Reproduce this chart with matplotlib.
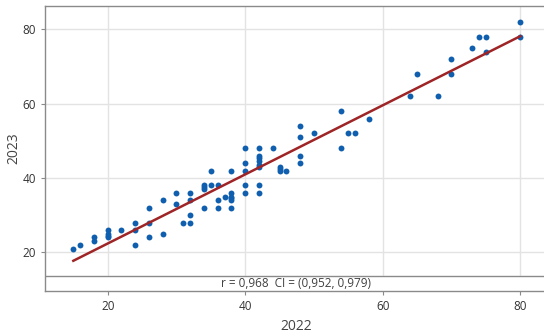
import matplotlib
matplotlib.use("Agg")
import matplotlib.pyplot as plt
import numpy as np

plt.rcParams['font.family'] = ['Open Sans', 'DejaVu Sans']

x2022 = [15, 16, 18, 18, 20, 20, 20, 20, 22, 24, 24, 24, 26, 26, 26, 28, 28, 30, 30, 31,
         32, 32, 32, 32, 34, 34, 34, 34, 35, 35, 36, 36, 36, 37,
         38, 38, 38, 38, 38, 38, 40, 40, 40, 40, 40,
         42, 42, 42, 42, 42, 42, 42, 42, 44, 45, 45, 45, 46,
         48, 48, 48, 48, 50, 54, 54, 55, 56, 58, 64, 65, 68, 70, 70, 73, 74, 75, 75, 80, 80]
y2023 = [21, 22, 24, 23, 26, 25, 24.5, 24, 26, 28, 26, 22, 32, 28, 24, 34, 25, 36, 33, 28,
         36, 34, 30, 28, 38, 37.5, 37, 32, 42, 38, 38, 34, 32, 35,
         42, 36, 35, 34.5, 34, 32, 48, 44, 42, 38, 36,
         48, 46, 45.5, 44.5, 43.5, 43, 38, 36, 48, 43, 42.5, 42, 42,
         54, 51, 46, 44, 52, 58, 48, 52, 52, 56, 62, 68, 62, 72, 68, 75, 78, 78, 74, 82, 78]
xticks = [20, 40, 60, 80]
yticks = [20, 40, 60, 80]
annot = "r = 0,968  CI = (0,952, 0,979)"

fig = plt.figure(figsize=(5.44, 3.34), dpi=100)
ax = fig.add_axes([45/544, 1 - 291/334, 502/544, 285/334])

x = np.array(x2022, dtype=float)
y = np.array(y2023, dtype=float)
b, a = np.polyfit(x, y, 1)
xs = np.array([x.min(), x.max()])

ax.set_xlim(10.88, 83.9)
ax.set_ylim(9.59, 86.27)
ax.set_xticks(xticks)
ax.set_yticks(yticks)
ax.grid(True, color='#e3e3e3', linewidth=1.0, zorder=0)
ax.set_axisbelow(True)

ax.scatter(x, y, s=18, color='#0f5fae', zorder=3, linewidths=0)
ax.plot(xs, a + b * xs, color='#9e2426', linewidth=1.8, zorder=4)

strip_top = 13.6
ax.axhspan(9.59, strip_top, color='white', zorder=1)
ax.axhline(strip_top, color='#8a8a8a', linewidth=1.0, zorder=2)
ax.text(0.5, (strip_top - 9.59) / 2 / (86.27 - 9.59), annot, transform=ax.transAxes,
        ha='center', va='center', fontsize=8.5, color='#404040', zorder=5)

for s in ['left', 'bottom', 'top']:
    ax.spines[s].set_color('#8a8a8a')
    ax.spines[s].set_linewidth(1.0)
ax.spines['right'].set_visible(False)

ax.tick_params(axis='both', colors='#8a8a8a', labelcolor='#333333', labelsize=8.5,
               length=3, width=0.8)
ax.set_xlabel('2022', fontsize=10, color='#444444')
ax.set_ylabel('2023', fontsize=10, color='#444444')
ax.xaxis.set_label_coords(0.5, -0.123)
ax.yaxis.set_label_coords(-0.062, 0.5)
ax.xaxis.label.set_va('center')
ax.yaxis.label.set_va('center')

fig.savefig('out.png', dpi=100)
